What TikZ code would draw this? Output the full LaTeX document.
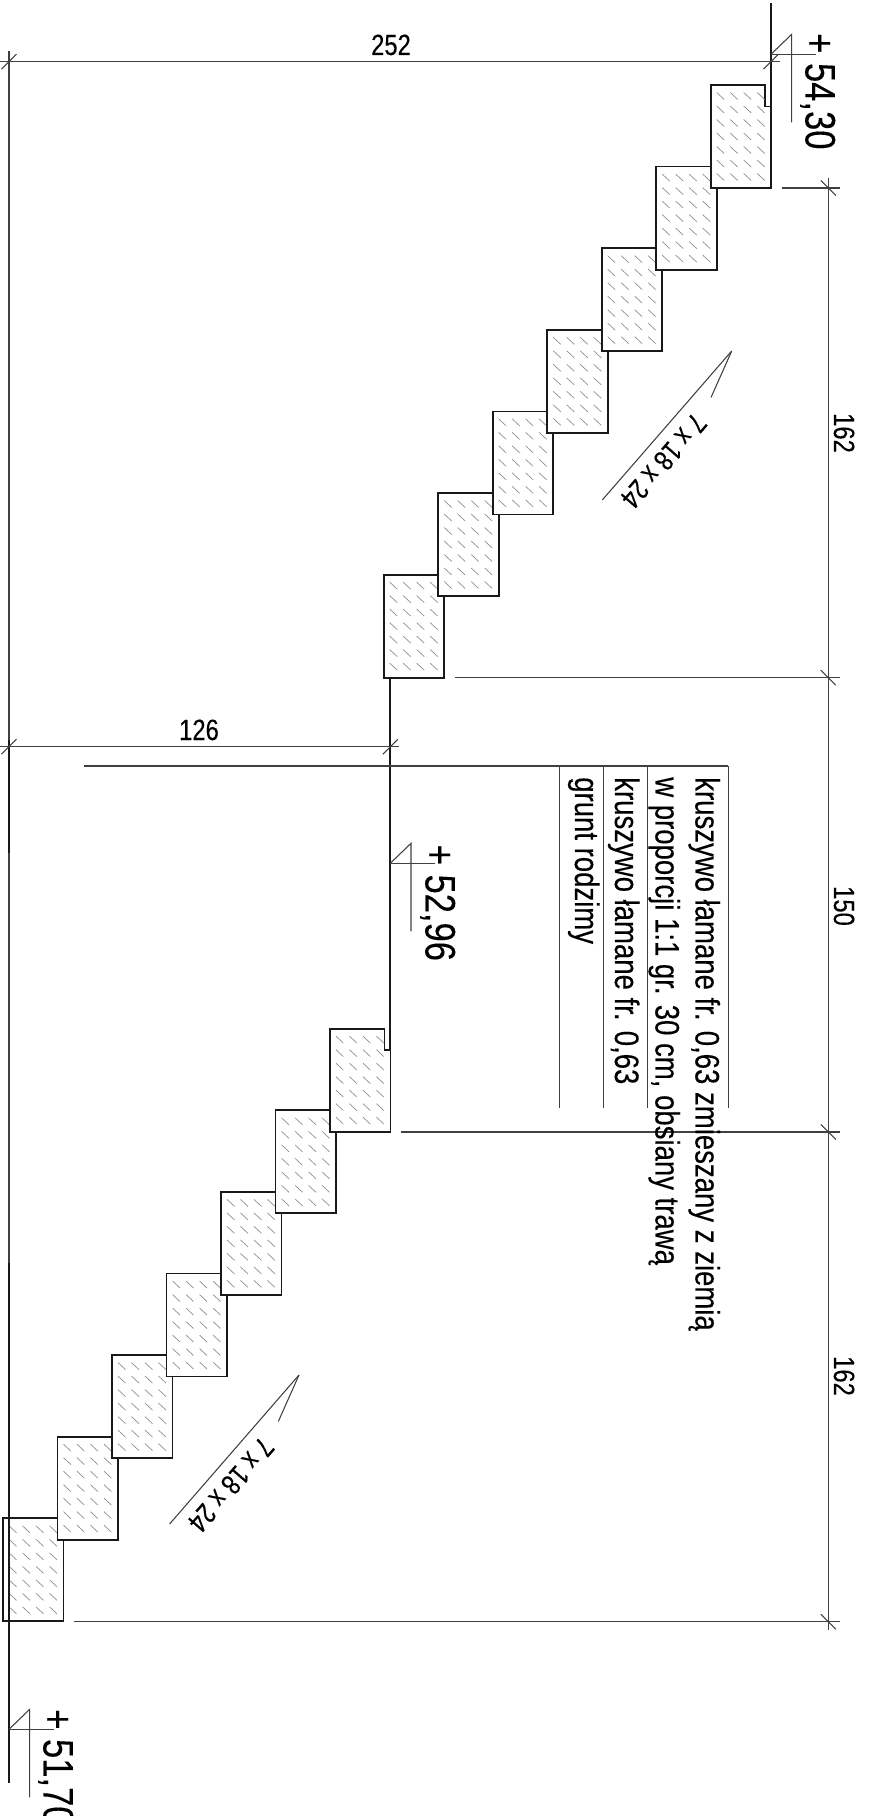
\documentclass[tikz,border=0pt]{standalone}
\usepackage{fontspec}
\setmainfont[FakeStretch=0.81,FakeBold=0.2]{Liberation Sans}
\tikzset{
  thinline/.style={line width=0.8pt,color=black!75},
  hatchline/.style={line width=0.5pt,color=black!45},
  heavyline/.style={line width=1.35pt,color=black!90},
  levelmark/.style={anchor=base west,rotate=-90,inner sep=0pt,font=\fontsize{32}{32}\selectfont},
  dimlabel/.style={anchor=base,inner sep=0pt,font=\fontsize{22}{22}\selectfont},
  layerlabel/.style={anchor=base west,rotate=-90,inner sep=0pt,font=\fontsize{25.5}{26}\selectfont},
  steplabel/.style={anchor=center,rotate=229,inner sep=0pt,font=\fontsize{21.5}{22}\selectfont}
}
\begin{document}
\begin{tikzpicture}[x=0.75pt,y=-0.75pt]
      \useasboundingbox (0,0) rectangle (871,1816);

      % stairs, lowest step first
      \foreach \fx/\fy in {710.7/85, 330/1028.7}{
        \foreach \i in {6,5,...,0}{
          \pgfmathsetmacro{\bx}{\fx-54.5*\i}
          \pgfmathsetmacro{\by}{\fy+81.6*\i}
          \pgfmathsetmacro{\nx}{\i==0 ? 54.5 : 60.5}
          \pgfmathsetmacro{\ny}{\i==0 ? 21.5 : 0}
          \begin{scope}[shift={(\bx,\by)}]
            \filldraw[heavyline,fill=white](0,0)--(\nx,0)--(\nx,\ny)--(60.5,\ny)--(60.5,103)--(0,103)--cycle;
            \foreach \c in {0,...,3}
              \foreach \r in {0,...,6}
                \draw[hatchline](6+13.5*\c,7.5+13.5*\r)--++(7.5,7);
          \end{scope}
        }
      }

      % walls and ground
      \coordinate(T1)at(771,3);
      \coordinate(T2)at(771,106);
      \coordinate(M1)at(390.3,678);
      \coordinate(M2)at(390.3,1050);
      \coordinate(L1)at(9,51);
      \coordinate(L2)at(9,740);
      \coordinate(L3)at(9,853);
      \coordinate(L4)at(9,1263);
      \coordinate(L5)at(9,1783);
      \draw[thinline](L1)--(L4);
      \draw[heavyline](T1)--(T2);
      \draw[heavyline](M1)--(M2);
      \draw[heavyline](L2)--(L3);
      \draw[heavyline](L4)--(L5);

      % dimension lines
      \coordinate(A1)at(0,61.7);
      \coordinate(A2)at(780,61.7);
      \coordinate(B1)at(0,746.7);
      \coordinate(B2)at(399,746.7);
      \coordinate(C1)at(828.3,178);
      \coordinate(C2)at(828.3,1630);
      \draw[thinline](A1)--(A2);
      \draw[thinline](B1)--(B2);
      \draw[thinline](C1)--(C2);
      \foreach \y/\xs in {188/781.7, 677.6/455, 1132/401, 1621.7/74}{
        \draw[thinline](\xs,\y)--(840,\y);
        \draw[thinline](828.3,\y)++(-7.5,-7.5)--++(15,15);
      }
      \foreach \p in {(9,61.7),(771,61.7),(9,746.7),(390.3,746.7)}
        \draw[thinline]\p++(-7.5,7.5)--++(15,-15);

      \node[dimlabel](d252)at(391,55){252};
      \node[dimlabel](d126)at(199,740){126};
      \node[dimlabel,rotate=-90](d162a)at(834,433){162};
      \node[dimlabel,rotate=-90](d150)at(834,906){150};
      \node[dimlabel,rotate=-90](d162b)at(834,1376){162};

      % levels
      \foreach \lx/\ly in {771/54.3, 390.3/863.3, 9/1729.3}{
        \draw[thinline](\lx,\ly)--++(44.7,0);
        \draw[thinline](\lx,\ly)--++(20.7,-20)--++(0,88);
      }
      \node[levelmark](l5430)at(805.5,33){+ 54,30};
      \node[levelmark](l5296)at(425.5,844.5){+ 52,96};
      \node[levelmark](l5170)at(43.5,1709){+ 51,70};

      % stair arrows
      \foreach \ax/\ay/\nm in {731.7/351/sa, 299/1375/sb}{
        \draw[thinline](\ax,\ay)--++(-129.4,149);
        \draw[thinline](\ax,\ay)--++(-20.7,46.5);
        \node[steplabel](\nm)at(\ax-68,\ay+110){7 x 18 x 24};
      }

      % layers
      \coordinate(P1)at(84,766);
      \coordinate(P2)at(728.3,766);
      \draw[thinline](P1)--(P2);
      \foreach \x in {559.3,603.3,647.3,728.3}
        \draw[thinline](\x,766)--(\x,1108.3);
      \node[layerlabel](n1)at(695.5,777){kruszywo łamane fr. 0,63 zmieszany z ziemią};
      \node[layerlabel](n2)at(655.5,777){w proporcji 1:1 gr. 30 cm, obsiany trawą};
      \node[layerlabel](n3)at(615,777){kruszywo łamane fr. 0,63};
      \node[layerlabel](n4)at(575,777){grunt rodzimy};
    \end{tikzpicture}
\end{document}
